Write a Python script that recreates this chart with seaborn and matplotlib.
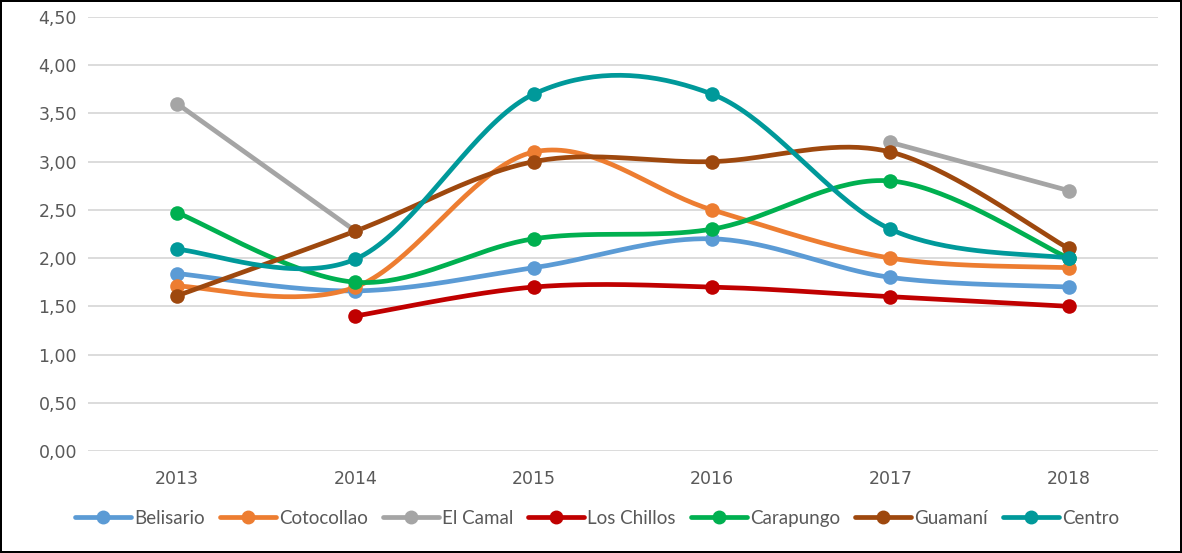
import numpy as np
import pandas as pd
import seaborn as sns
import matplotlib.pyplot as plt
from matplotlib.lines import Line2D
from matplotlib.ticker import FuncFormatter

years = ["2013", "2014", "2015", "2016", "2017", "2018"]

belisario = [1.84, 1.66, 1.90, 2.20, 1.80, 1.70]
cotocollao = [1.71, 1.70, 3.10, 2.50, 2.00, 1.90]
el_camal = [3.60, 2.28, None, None, 3.20, 2.70]
los_chillos = [None, 1.40, 1.70, 1.70, 1.60, 1.50]
carapungo = [2.47, 1.75, 2.20, 2.30, 2.80, 2.00]
guamani = [1.61, 2.28, 3.00, 3.00, 3.10, 2.10]
centro = [2.09, 1.99, 3.70, 3.70, 2.30, 2.00]

series = {
    "Belisario": belisario,
    "Cotocollao": cotocollao,
    "El Camal": el_camal,
    "Los Chillos": los_chillos,
    "Carapungo": carapungo,
    "Guamaní": guamani,
    "Centro": centro,
}
colors = ["#5B9BD5", "#ED7D31", "#A5A5A5", "#C00000", "#00B050", "#9E480E", "#00999A"]
palette = dict(zip(series.keys(), colors))


def smooth(xs, ys, n=40):
    # catmull-rom style bezier, like excel's smoothed lines
    pts = np.column_stack([xs, ys]).astype(float)
    if len(pts) < 3:
        return pts[:, 0], pts[:, 1]
    ext = np.vstack([pts[0], pts, pts[-1]])
    out = []
    t = np.linspace(0, 1, n)[:, None]
    for i in range(1, len(ext) - 2):
        p0, p1, p2, p3 = ext[i - 1], ext[i], ext[i + 1], ext[i + 2]
        c1 = p1 + (p2 - p0) / 6
        c2 = p2 - (p3 - p1) / 6
        seg = ((1 - t) ** 3) * p1 + 3 * ((1 - t) ** 2) * t * c1 + 3 * (1 - t) * t ** 2 * c2 + t ** 3 * p2
        out.append(seg if i == 1 else seg[1:])
    out = np.vstack(out)
    return out[:, 0], out[:, 1]


rows = []
points = []
for name, vals in series.items():
    seg_id = 0
    cur_x, cur_y = [], []
    for i, v in enumerate(vals + [None]):
        if v is None:
            if cur_x:
                sx, sy = smooth(cur_x, cur_y)
                for a, b in zip(sx, sy):
                    rows.append({"name": name, "seg": f"{name}-{seg_id}", "x": a, "y": b})
                seg_id += 1
            cur_x, cur_y = [], []
        else:
            cur_x.append(i)
            cur_y.append(v)
            points.append({"name": name, "x": i, "y": v})

curves = pd.DataFrame(rows)
marks = pd.DataFrame(points)

fig = plt.figure(figsize=(11.82, 5.53), dpi=100)
fig.patch.set_edgecolor("black")
fig.patch.set_linewidth(1.5)
ax = fig.add_axes([0.0745, 0.1844, 0.905, 0.785])

sns.set_style("white")
plt.rcParams["font.family"] = ["Lato", "DejaVu Sans"]

for name in series:
    c = curves[curves["name"] == name]
    m = marks[marks["name"] == name]
    sns.lineplot(data=c, x="x", y="y", units="seg", estimator=None, sort=False,
                 color=palette[name], linewidth=3.4, ax=ax, legend=False, zorder=3)
    sns.scatterplot(data=m, x="x", y="y", color=palette[name], s=110, linewidth=0,
                    ax=ax, legend=False, zorder=4)

ax.set_xlim(-0.5, 5.5)
ax.set_ylim(0, 4.5)
ax.set_yticks(np.arange(0, 4.51, 0.5))
ax.yaxis.set_major_formatter(FuncFormatter(lambda v, p: f"{v:.2f}".replace(".", ",")))
ax.set_xticks(range(len(years)))
ax.set_xticklabels(years)
ax.grid(axis="y", color="#d9d9d9", linewidth=1.3)
ax.set_axisbelow(True)
for s in ax.spines.values():
    s.set_visible(False)
ax.tick_params(length=0, labelsize=12.5, colors="#595959", pad=8)
ax.tick_params(axis="x", pad=14)
ax.set_xlabel("")
ax.set_ylabel("")

handles = [Line2D([0], [0], color=palette[n], linewidth=3.4, marker="o", markersize=9) for n in series]
fig.legend(handles, list(series.keys()), loc="center", bbox_to_anchor=(0.505, 0.063), ncol=7,
           frameon=False, fontsize=13.5, handlelength=3.0, handletextpad=0.15, columnspacing=0.8,
           labelcolor="#595959")

fig.savefig("out.png", dpi=100, edgecolor=fig.get_edgecolor())
